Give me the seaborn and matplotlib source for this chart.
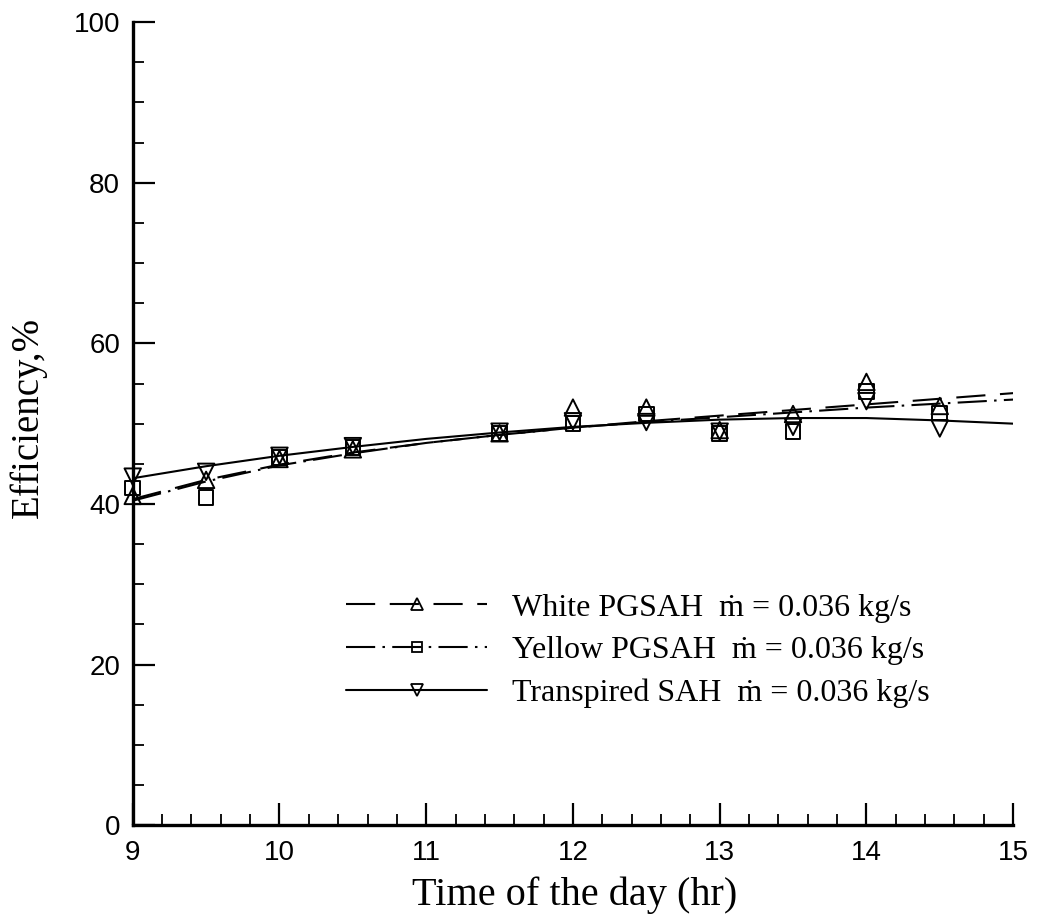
import numpy as np
import pandas as pd
import seaborn as sns
import matplotlib
matplotlib.use("Agg")
import matplotlib.pyplot as plt
from matplotlib.lines import Line2D
from matplotlib.ticker import MultipleLocator
from matplotlib.font_manager import FontProperties

# ---------------- data ----------------
hours_pts = [9, 9.5, 10, 10.5, 11.5, 12, 12.5, 13, 13.5, 14, 14.5]
white_pts = [41.0, 43.0, 45.6, 46.8, 48.8, 52.0, 52.0, 49.2, 51.2, 55.2, 52.2]
yellow_pts = [42.0, 40.8, 45.8, 47.0, 48.8, 50.0, 51.2, 48.8, 49.0, 54.0, 51.3]
transp_pts = [43.4, 44.0, 46.0, 47.2, 49.0, 50.3, 50.2, 49.0, 49.6, 52.8, 49.4]

hours_fit = [9, 9.5, 10, 10.5, 11, 11.5, 12, 12.5, 13, 13.5, 14, 14.5, 15]
white_fit = [40.6, 43.0, 44.9, 46.4, 47.6, 48.6, 49.5, 50.3, 51.0, 51.7, 52.4, 53.1, 53.8]
yellow_fit = [40.4, 42.8, 44.8, 46.3, 47.6, 48.6, 49.5, 50.2, 50.8, 51.4, 52.0, 52.5, 53.0]
transp_fit = [43.2, 44.7, 46.0, 47.1, 48.1, 48.9, 49.6, 50.1, 50.5, 50.7, 50.7, 50.4, 50.0]

labels = ["White PGSAH  \u1e41 = 0.036 kg/s",
          "Yellow PGSAH  \u1e41 = 0.036 kg/s",
          "Transpired SAH  \u1e41 = 0.036 kg/s"]

x_ticks = [9, 10, 11, 12, 13, 14, 15]
y_ticks = [0, 20, 40, 60, 80, 100]

# ---------------- style ----------------
sns.set_theme(style="ticks")
plt.rcParams["font.family"] = ["Liberation Sans", "DejaVu Sans"]
plt.rcParams["text.color"] = "black"
plt.rcParams["axes.labelcolor"] = "black"
serif = ["Liberation Serif", "DejaVu Serif"]

fig = plt.figure(figsize=(10.37, 9.24), dpi=100)
ax = fig.add_axes([0.128, 0.107, 0.849, 0.869])

dash_white = (14, 7)
dash_yellow = (14, 3.5, 1.2, 3.5)
lw = 1.5

series = [
    (white_fit, white_pts, "^", dash_white),
    (yellow_fit, yellow_pts, "s", dash_yellow),
    (transp_fit, transp_pts, "v", None),
]

for fit, pts, mk, dsh in series:
    sns.lineplot(x=hours_fit, y=fit, ax=ax, color="black", linewidth=lw,
                 estimator=None, sort=False)
    ln = ax.lines[-1]
    if dsh is not None:
        ln.set_dashes(dsh)
    sz = 110 if mk == "s" else 140
    sns.scatterplot(x=hours_pts, y=pts, ax=ax, marker=mk, s=sz,
                    facecolors="none", edgecolor="black", linewidth=1.4,
                    clip_on=False, zorder=3)

ax.set_xlim(9, 15)
ax.set_ylim(0, 100)
ax.set_xticks(x_ticks)
ax.set_yticks(y_ticks)
ax.xaxis.set_minor_locator(MultipleLocator(0.2))
ax.yaxis.set_minor_locator(MultipleLocator(5))

for s in ["top", "right"]:
    ax.spines[s].set_visible(False)
for s in ["left", "bottom"]:
    ax.spines[s].set_linewidth(2.4)
    ax.spines[s].set_color("black")

ax.tick_params(which="major", direction="in", length=16, width=1.6,
               labelsize=20, colors="black", pad=9)
ax.tick_params(which="minor", direction="in", length=8, width=1.3,
               colors="black")
ax.tick_params(axis="x", which="major", pad=11)
for t in ax.get_xticklabels() + ax.get_yticklabels():
    t.set_fontfamily(["Liberation Sans", "DejaVu Sans"])

ax.set_xlabel("Time of the day (hr)", fontsize=29, family=serif, color="black")
ax.set_ylabel("Efficiency,%", fontsize=28, family=serif, color="black")
ax.xaxis.set_label_coords(0.502, -0.064)
ax.yaxis.set_label_coords(-0.097, 0.508)

handles = [
    Line2D([], [], color="black", lw=lw, dashes=dash_white, marker="^",
           ms=8, mfc="none", mec="black", mew=1.3),
    Line2D([], [], color="black", lw=lw, dashes=dash_yellow, marker="s",
           ms=7.5, mfc="none", mec="black", mew=1.3),
    Line2D([], [], color="black", lw=lw, marker="v",
           ms=8, mfc="none", mec="black", mew=1.3),
]
leg = ax.legend(handles, labels, loc="upper left",
                bbox_to_anchor=(0.334, 0.358), bbox_transform=fig.transFigure,
                frameon=False, borderpad=0, borderaxespad=0,
                handlelength=4.4, handletextpad=0.8, labelspacing=0.42,
                numpoints=1, prop=FontProperties(family=serif, size=23))
for t in leg.get_texts():
    t.set_color("black")

fig.savefig("out.png", dpi=100, facecolor="white")
